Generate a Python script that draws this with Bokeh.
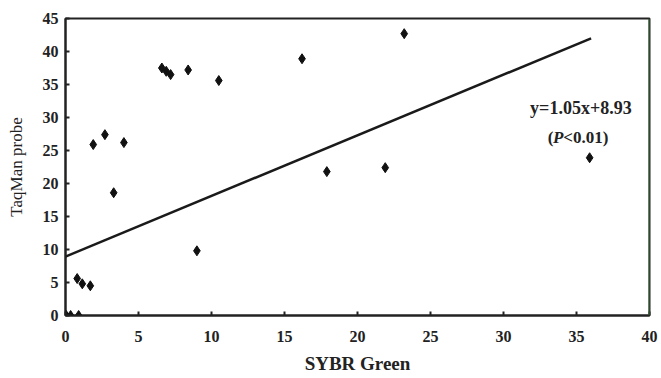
from bokeh.plotting import figure
from bokeh.models import Range1d, Span, Label, FixedTicker
from bokeh.embed import file_html
from bokeh.resources import INLINE

# SYBR Green vs TaqMan probe measurements
sybr = [0.05, 0.35, 0.9, 0.8, 1.15, 1.7, 1.9, 2.7, 3.3, 4.0,
        6.6, 6.9, 7.2, 8.4, 9.0, 10.5, 16.2, 17.9, 21.9, 23.2, 35.9]
taqman = [0.0, 0.0, 0.0, 5.6, 4.8, 4.5, 25.9, 27.4, 18.6, 26.2,
          37.5, 37.0, 36.5, 37.2, 9.8, 35.6, 38.9, 21.8, 22.4, 42.7, 23.9]

# regression line as drawn (start and end)
fit_x = [0, 36.0]
fit_y = [8.93, 42.0]

x_ticks = [0, 5, 10, 15, 20, 25, 30, 35, 40]
y_ticks = [0, 5, 10, 15, 20, 25, 30, 35, 40, 45]

FONT = "Liberation Serif"
INK = "#222222"

p = figure(width=661, height=378, output_backend="svg", toolbar_location=None,
           x_range=Range1d(0, 40), y_range=Range1d(0, 45),
           min_border_left=65, min_border_right=12, min_border_top=18,
           min_border_bottom=63)
p.background_fill_color = "white"
p.border_fill_color = "white"
p.grid.visible = False
p.outline_line_color = INK
p.outline_line_width = 2

for ax in (p.xaxis[0], p.yaxis[0]):
    ax.axis_line_width = 2
    ax.axis_line_color = INK
    ax.major_tick_in = 4
    ax.major_tick_out = 0
    ax.minor_tick_line_color = None
    ax.major_tick_line_width = 2
    ax.major_tick_line_color = INK
    ax.major_label_text_font = FONT
    ax.major_label_text_font_style = "bold"
    ax.major_label_text_font_size = "16px"
    ax.major_label_text_color = INK
    ax.axis_label_text_font = FONT
    ax.axis_label_text_color = INK

p.xaxis.ticker = FixedTicker(ticks=x_ticks)
p.yaxis.ticker = FixedTicker(ticks=y_ticks)
p.xaxis.axis_label = "SYBR Green"
p.xaxis.axis_label_text_font_style = "bold"
p.xaxis.axis_label_text_font_size = "19px"
p.yaxis.axis_label = "TaqMan probe"
p.yaxis.axis_label_text_font_style = "normal"
p.yaxis.axis_label_text_font_size = "17px"
p.xaxis.major_label_standoff = 15
p.xaxis.axis_label_standoff = 8
p.yaxis.major_label_standoff = 7
p.yaxis.axis_label_standoff = 14

# right frame edge
p.add_layout(Span(location=40, dimension="height", line_color="#3f6e3f", line_width=2))

p.line(fit_x, fit_y, line_color="#1a1a1a", line_width=2.5)
p.scatter(sybr, taqman, marker="diamond", size=10, color="#111111")

# regression annotation
p.add_layout(Label(x=35.3, y=31.4, text="y=1.05x+8.93", text_font=FONT,
                   text_font_style="bold", text_font_size="18px",
                   text_color=INK, text_align="center", text_baseline="middle"))
p.add_layout(Label(x=34.1, y=27.0, x_offset=-10, text="(", text_font=FONT,
                   text_font_style="bold", text_font_size="17px",
                   text_color=INK, text_align="right", text_baseline="middle"))
p.add_layout(Label(x=34.1, y=27.0, text="P", text_font=FONT,
                   text_font_style="bold italic", text_font_size="17px",
                   text_color=INK, text_align="right", text_baseline="middle"))
p.add_layout(Label(x=34.1, y=27.0, text="<0.01)", text_font=FONT,
                   text_font_style="bold", text_font_size="17px",
                   text_color=INK, text_align="left", text_baseline="middle"))

open("out.html", "w").write(file_html(p, INLINE))
